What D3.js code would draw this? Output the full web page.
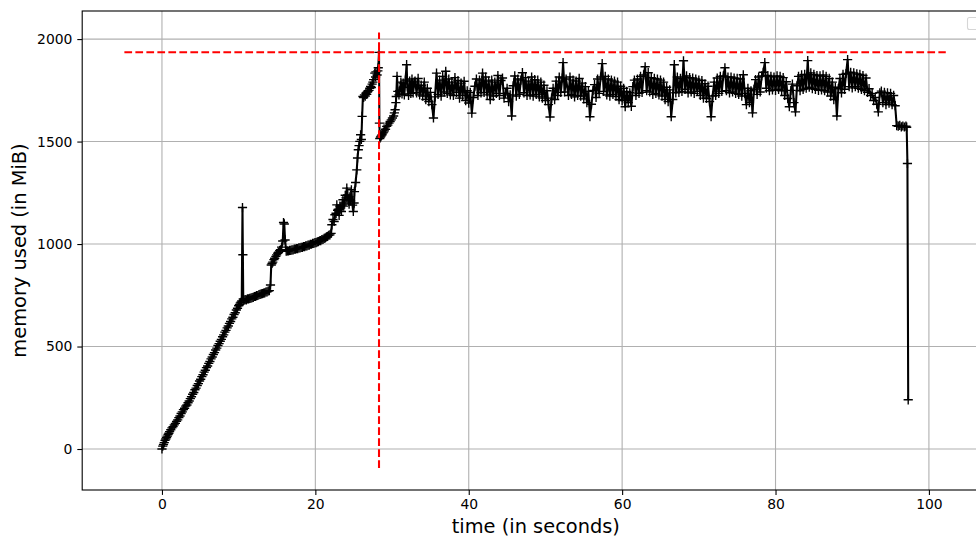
<!DOCTYPE html>
<html><head><meta charset="utf-8">
<script src="https://cdn.jsdelivr.net/npm/d3@7"></script>
<style>body{margin:0;background:#fff} svg{display:block}</style>
</head><body><svg id="c" width="976" height="538"></svg>
<script>
// ---- data: [time (s), memory (MiB)] ----
const startRamp = [[0,0],[0.1,14],[0.2,22],[0.3,31],[0.4,42],[0.5,49],[0.6,56],[0.7,63],[0.8,71],[0.9,77],[1.0,85],[1.15,94],[1.3,103],[1.45,109],[1.6,118],[1.75,125],[1.9,135],[2.05,142],[2.2,153],[2.35,161],[2.5,173],[2.65,181],[2.8,192],[2.95,199],[3.1,209],[3.25,215],[3.4,226],[3.55,234],[3.7,246],[3.85,255],[4.0,267],[4.15,276],[4.3,289],[4.45,297],[4.6,310],[4.75,319],[4.9,332],[5.05,340],[5.2,353],[5.35,362],[5.5,375],[5.65,384],[5.8,397],[5.95,405],[6.1,418],[6.25,427],[6.4,440],[6.55,449],[6.7,461],[6.85,470],[7.0,483],[7.15,492],[7.3,505],[7.45,514],[7.6,526],[7.75,535],[7.9,548],[8.05,557],[8.2,570],[8.35,579],[8.5,591],[8.65,600],[8.8,613],[8.95,622],[9.1,635],[9.25,643],[9.4,656],[9.55,665],[9.7,678],[9.85,687],[10.0,699],[10.1,704],[10.2,712],[10.3,716],[10.4,722]];
const firstSpike = [[10.5,1178],[10.55,948],[10.6,732],[10.7,726],[10.85,729],[11.0,728],[11.15,732],[11.3,732],[11.45,735],[11.6,736],[11.75,739],[11.9,740],[12.05,744],[12.2,745],[12.35,748],[12.5,749],[12.65,753],[12.8,754],[12.95,757],[13.1,758],[13.25,761],[13.4,762],[13.55,766],[13.7,767],[13.85,771],[14.0,773]];
const loadStep = [[14.15,800],[14.25,898],[14.35,905],[14.45,912],[14.6,924],[14.7,931],[14.85,940],[14.95,947],[15.1,955],[15.2,960],[15.35,968],[15.45,972],[15.6,985],[15.75,1015],[15.85,1105],[15.95,1098],[16.05,1020],[16.2,965]];
const warmup = [[16.35,967],[16.5,966],[16.65,969],[16.8,969],[16.95,972],[17.1,972],[17.25,975],[17.4,975],[17.55,978],[17.7,978],[17.85,981],[18.0,981],[18.15,984],[18.3,984],[18.45,987],[18.6,987],[18.75,991],[18.9,991],[19.05,995],[19.2,995],[19.35,999],[19.5,999],[19.65,1003],[19.8,1003],[19.95,1007],[20.1,1007],[20.25,1011],[20.4,1012],[20.55,1016],[20.7,1017],[20.85,1022],[21.0,1023],[21.15,1028],[21.3,1030],[21.45,1035],[21.6,1037],[21.75,1043],[21.9,1045],[22.05,1052],[22.15,1094],[22.3,1120],[22.45,1110],[22.55,1143],[22.7,1150],[22.8,1191],[22.9,1165],[23.0,1170],[23.1,1140],[23.2,1185],[23.3,1175],[23.4,1159],[23.5,1190],[23.6,1216],[23.7,1185],[23.8,1200],[23.9,1238],[24.0,1225],[24.1,1273],[24.2,1240],[24.3,1216],[24.4,1195],[24.5,1230],[24.6,1210],[24.7,1265],[24.85,1190],[24.95,1159],[25.05,1200],[25.1,1256],[25.25,1300],[25.4,1362],[25.5,1420],[25.6,1460],[25.7,1480],[25.8,1501],[25.9,1533],[26.0,1510],[26.1,1623],[26.2,1720],[26.3,1715],[26.4,1728],[26.5,1722],[26.6,1736],[26.7,1730],[26.8,1742],[26.9,1748],[27.0,1750],[27.1,1760],[27.2,1769],[27.3,1764],[27.4,1780],[27.5,1790],[27.6,1802],[27.75,1834],[27.85,1815],[27.9,1840],[28.05,1825],[28.15,1845],[28.2,1860],[28.3,1935]];
const recovery = [[28.35,1590],[28.4,1515],[28.5,1522],[28.6,1528],[28.7,1533],[28.8,1541],[28.9,1546],[29.0,1552],[29.15,1560],[29.3,1574],[29.45,1580],[29.6,1590],[29.75,1598],[29.9,1606],[30.05,1615],[30.2,1625],[30.3,1640],[30.4,1655],[30.5,1690],[30.55,1720],[30.65,1818],[30.75,1745],[30.9,1728],[31.0,1748],[31.15,1790],[31.3,1732],[31.45,1785],[31.6,1728],[31.75,1800],[31.9,1875],[32.0,1765],[32.15,1725],[32.3,1795],[32.45,1735],[32.6,1805],[32.75,1738],[32.9,1790]];
const steadyState = [
[33.0,1795],[33.2,1738],[33.4,1808],[33.6,1728],[33.8,1775],
[34.0,1722],[34.2,1790],[34.4,1705],[34.6,1760],[34.8,1695],
[35.0,1740],[35.2,1680],[35.4,1615],[35.6,1718],[35.8,1834],
[36.0,1730],[36.2,1800],[36.4,1722],[36.6,1818],[36.8,1742],
[37.0,1843],[37.2,1735],[37.4,1805],[37.6,1728],[37.8,1790],
[38.0,1725],[38.2,1812],[38.4,1740],[38.6,1798],[38.8,1712],
[39.0,1785],[39.2,1725],[39.4,1794],[39.6,1700],[39.8,1748],
[40.0,1688],[40.2,1740],[40.4,1639],[40.6,1715],[40.8,1770],
[41.0,1805],[41.2,1725],[41.4,1800],[41.6,1738],[41.8,1834],
[42.0,1740],[42.2,1815],[42.4,1728],[42.6,1795],[42.8,1705],
[43.0,1800],[43.2,1722],[43.4,1790],[43.6,1735],[43.8,1822],
[44.0,1725],[44.2,1798],[44.4,1810],[44.6,1712],[44.8,1735],
[45.0,1760],[45.2,1695],[45.4,1728],[45.6,1625],[45.8,1772],
[46.0,1820],[46.2,1722],[46.4,1805],[46.6,1730],[46.8,1800],
[47.0,1836],[47.2,1738],[47.4,1812],[47.6,1725],[47.8,1795],
[48.0,1728],[48.2,1815],[48.4,1722],[48.6,1802],[48.8,1730],
[49.0,1800],[49.2,1718],[49.4,1790],[49.6,1712],[49.8,1775],
[50.0,1700],[50.2,1748],[50.4,1680],[50.6,1620],[50.8,1712],
[51.0,1760],[51.2,1705],[51.4,1795],[51.6,1725],[51.8,1815],
[52.0,1740],[52.2,1810],[52.3,1885],[52.5,1742],[52.7,1805],
[53.0,1725],[53.2,1815],[53.4,1730],[53.6,1800],[53.8,1718],
[54.0,1795],[54.2,1725],[54.4,1808],[54.6,1722],[54.8,1785],
[55.0,1708],[55.2,1768],[55.4,1690],[55.6,1745],[55.8,1621],
[56.0,1682],[56.2,1750],[56.4,1778],[56.6,1715],[56.8,1805],
[57.0,1735],[57.2,1815],[57.4,1880],[57.6,1745],[57.8,1818],
[58.0,1728],[58.2,1805],[58.4,1722],[58.6,1800],[58.8,1730],
[59.0,1795],[59.2,1720],[59.4,1790],[59.6,1705],[59.8,1770],
[60.0,1700],[60.2,1760],[60.4,1670],[60.6,1745],[60.8,1690],
[61.0,1738],[61.2,1672],[61.4,1768],[61.6,1800],[61.8,1725],
[62.0,1805],[62.2,1735],[62.4,1818],[62.6,1740],[62.8,1825],
[63.0,1865],[63.2,1748],[63.4,1836],[63.6,1742],[63.8,1812],
[64.0,1730],[64.2,1808],[64.4,1735],[64.6,1805],[64.8,1728],
[65.0,1800],[65.2,1722],[65.4,1790],[65.6,1705],[65.8,1765],
[66.0,1695],[66.2,1752],[66.4,1621],[66.6,1705],[66.8,1875],
[67.0,1738],[67.2,1815],[67.4,1740],[67.6,1808],[67.8,1745],
[68.0,1894],[68.2,1755],[68.4,1820],[68.6,1738],[68.8,1812],
[69.0,1742],[69.2,1810],[69.4,1735],[69.6,1805],[69.8,1745],
[70.0,1800],[70.2,1725],[70.4,1798],[70.6,1712],[70.8,1782],
[71.0,1710],[71.2,1770],[71.4,1695],[71.6,1621],[71.8,1722],
[72.0,1790],[72.2,1725],[72.4,1810],[72.6,1735],[72.8,1818],
[73.0,1745],[73.2,1820],[73.4,1860],[73.6,1748],[73.8,1815],
[74.0,1738],[74.2,1815],[74.4,1742],[74.6,1810],[74.8,1735],
[75.0,1808],[75.2,1730],[75.4,1805],[75.6,1722],[75.8,1826],
[76.0,1735],[76.2,1680],[76.4,1760],[76.6,1690],[76.8,1748],
[77.0,1640],[77.2,1755],[77.4,1802],[77.6,1730],[77.8,1815],
[78.0,1742],[78.2,1820],[78.4,1838],[78.6,1885],[78.8,1760],
[79.0,1822],[79.2,1748],[79.4,1818],[79.6,1752],[79.8,1815],
[80.0,1750],[80.2,1820],[80.4,1755],[80.6,1818],[80.8,1748],
[81.0,1812],[81.2,1725],[81.4,1792],[81.6,1710],[81.8,1670],
[82.0,1750],[82.2,1780],[82.4,1690],[82.6,1645],[82.8,1772],
[83.0,1818],[83.2,1748],[83.4,1825],[83.6,1755],[83.8,1828],
[84.0,1760],[84.2,1895],[84.4,1765],[84.6,1835],[84.8,1758],
[85.0,1828],[85.2,1755],[85.4,1822],[85.6,1750],[85.8,1820],
[86.0,1752],[86.2,1825],[86.4,1748],[86.6,1818],[86.8,1742],
[87.0,1808],[87.2,1722],[87.4,1790],[87.6,1705],[87.8,1765],
[88.0,1625],[88.2,1758],[88.4,1808],[88.6,1738],[88.8,1828],
[89.0,1755],[89.2,1832],[89.4,1900],[89.6,1768],[89.8,1838],
[90.0,1762],[90.2,1835],[90.4,1768],[90.6,1830],[90.8,1760],
[91.0,1828],[91.2,1755],[91.4,1822],[91.6,1748],[91.8,1810],
[92.0,1740],[92.2,1758],[92.4,1725],[92.6,1735],[92.8,1700],
[93.0,1715],[93.2,1682],[93.4,1645],[93.6,1738],[93.8,1746],
[94.0,1690],[94.2,1740],[94.4,1680],[94.6,1738],[94.8,1688],
[95.0,1735],[95.2,1680],[95.4,1725],[95.6,1675]];
const shutdown = [[95.8,1578],[96.0,1575],[96.2,1579],[96.4,1572],[96.6,1576],[96.8,1571],[97.0,1575],[97.1,1570],[97.2,1393],[97.3,240]];

const xTicks = [0, 20, 40, 60, 80, 100];
const yTicks = [0, 500, 1000, 1500, 2000];
const maxMem = 1936;          // peak memory (horizontal marker)
const maxTime = 28.3;         // time of peak (vertical marker)
const hLineSpan = [-4.9, 102.2];
const vLineSpan = [-93, 2032];
const xLabel = "time (in seconds)";
const yLabel = "memory used (in MiB)";

// ---- drawing ----
const samples = [].concat(startRamp, firstSpike, loadStep, warmup, recovery, steadyState, shutdown);
const svg = d3.select("#c");
const L = 82.2, R = 989.5, T = 11, B = 490;
const x = d3.scaleLinear().domain([-10.4, 107.9]).range([L, R]);
const y = d3.scaleLinear().domain([-200, 2137]).range([B, T]);
const font = "'DejaVu Sans', sans-serif";

svg.append("rect").attr("width", 976).attr("height", 538).attr("fill", "#fff");

svg.append("defs").append("clipPath").attr("id", "clip")
  .append("rect").attr("x", L).attr("y", T).attr("width", R - L).attr("height", B - T);

// grid
const grid = svg.append("g").attr("stroke", "#b0b0b0").attr("stroke-width", 1.1);
grid.selectAll(".gx").data(xTicks).join("line")
  .attr("x1", d => x(d)).attr("x2", d => x(d)).attr("y1", T).attr("y2", B);
grid.selectAll(".gy").data(yTicks).join("line")
  .attr("x1", L).attr("x2", R).attr("y1", d => y(d)).attr("y2", d => y(d));

// axes
const xAxis = d3.axisBottom(x).tickValues(xTicks).tickSize(4.9).tickPadding(4.5).tickFormat(d3.format("d"));
const yAxis = d3.axisLeft(y).tickValues(yTicks).tickSize(4.9).tickPadding(4.9).tickFormat(d3.format("d"));
const gx = svg.append("g").attr("transform", `translate(0,${B})`).call(xAxis);
const gy = svg.append("g").attr("transform", `translate(${L},0)`).call(yAxis);
[gx, gy].forEach(g => {
  g.select(".domain").remove();
  g.selectAll(".tick line").attr("stroke", "#000").attr("stroke-width", 1.1);
  g.selectAll(".tick text").attr("fill", "#000").style("font-family", font).style("font-size", "13.9px");
});

// data line + markers
const plot = svg.append("g").attr("clip-path", "url(#clip)");
const line = d3.line().x(d => x(d[0])).y(d => y(d[1]));
plot.append("path").datum(samples).attr("d", line)
  .attr("fill", "none").attr("stroke", "#000").attr("stroke-width", 2.08).attr("stroke-linejoin", "round");
const m = 4.6;
plot.selectAll(".mk").data(samples).join("path")
  .attr("d", d => `M${x(d[0]) - m},${y(d[1])}H${x(d[0]) + m}M${x(d[0])},${y(d[1]) - m}V${y(d[1]) + m}`)
  .attr("stroke", "#000").attr("stroke-width", 1.39).attr("fill", "none");

// peak markers
plot.append("line").attr("x1", x(hLineSpan[0])).attr("x2", x(hLineSpan[1]))
  .attr("y1", y(maxMem)).attr("y2", y(maxMem))
  .attr("stroke", "#ff0000").attr("stroke-width", 2.08).attr("stroke-dasharray", "7.7,3.3");
plot.append("line").attr("x1", x(maxTime)).attr("x2", x(maxTime))
  .attr("y1", y(vLineSpan[0])).attr("y2", y(vLineSpan[1]))
  .attr("stroke", "#ff0000").attr("stroke-width", 2.08).attr("stroke-dasharray", "7.7,3.3");

// frame
svg.append("rect").attr("x", L).attr("y", T).attr("width", R - L).attr("height", B - T)
  .attr("fill", "none").attr("stroke", "#000").attr("stroke-width", 1.1);

// empty legend box
svg.append("rect").attr("x", 967.5).attr("y", 17.5).attr("width", 14).attr("height", 12).attr("rx", 2)
  .attr("fill", "#fff").attr("fill-opacity", 0.8).attr("stroke", "#d6d6d6").attr("stroke-width", 1.1);

// labels
svg.append("text").attr("x", (L + R) / 2).attr("y", 533).attr("text-anchor", "middle")
  .style("font-family", font).style("font-size", "19.4px").attr("fill", "#000").text(xLabel);
svg.append("text").attr("transform", `translate(26,${(T + B) / 2}) rotate(-90)`).attr("text-anchor", "middle")
  .style("font-family", font).style("font-size", "19.4px").attr("fill", "#000").text(yLabel);
</script>
</body></html>
